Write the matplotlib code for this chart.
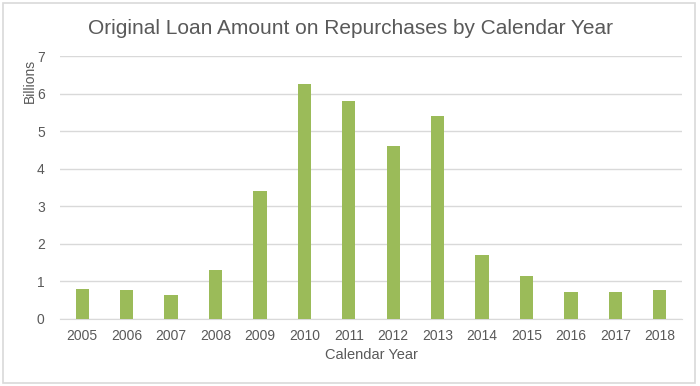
import matplotlib
matplotlib.use('Agg')
import matplotlib.pyplot as plt
from matplotlib.patches import Rectangle

# 年份和金額 (Billions)
years = ['2005', '2006', '2007', '2008', '2009', '2010', '2011',
         '2012', '2013', '2014', '2015', '2016', '2017', '2018']
amounts = [0.80, 0.77, 0.63, 1.30, 3.40, 6.25, 5.80,
           4.60, 5.40, 1.70, 1.15, 0.72, 0.73, 0.77]
yticks = [0, 1, 2, 3, 4, 5, 6, 7]

plt.rcParams['font.family'] = ['Liberation Sans', 'DejaVu Sans']
txt = '#595959'

fig = plt.figure(figsize=(7, 3.86), dpi=100)
ax = fig.add_axes([60/700, 1-319/386, 622/700, 263/386])

# 外框
fig.patches.append(Rectangle((3/700, 3/386), 692/700, 380/386, transform=fig.transFigure,
                             fill=False, edgecolor='#D9D9D9', linewidth=1.2))

x = list(range(len(years)))
ax.bar(x, amounts, width=0.3, color='#9BBB59', zorder=3)

ax.set_xlim(-0.5, len(years)-0.5)
ax.set_ylim(0, 7)
ax.set_yticks(yticks)
ax.set_xticks(x)
ax.set_xticklabels(years)
ax.grid(axis='y', color='#D9D9D9', linewidth=1, zorder=0)
for s in ['top', 'right', 'left']:
    ax.spines[s].set_visible(False)
ax.spines['bottom'].set_color('#D9D9D9')
ax.tick_params(length=0, labelsize=10, colors=txt, pad=7)
ax.tick_params(axis='y', pad=11)

fig.text(0.5, 1-28/386, 'Original Loan Amount on Repurchases by Calendar Year',
         ha='center', va='center', fontsize=15, color=txt)
ax.set_xlabel('Calendar Year', fontsize=10.5, color=txt, labelpad=4)
fig.text(30/700, 1-81/386, 'Billions', rotation=90, ha='center', va='center',
         fontsize=10, color=txt)

plt.savefig('out.png', dpi=100)
